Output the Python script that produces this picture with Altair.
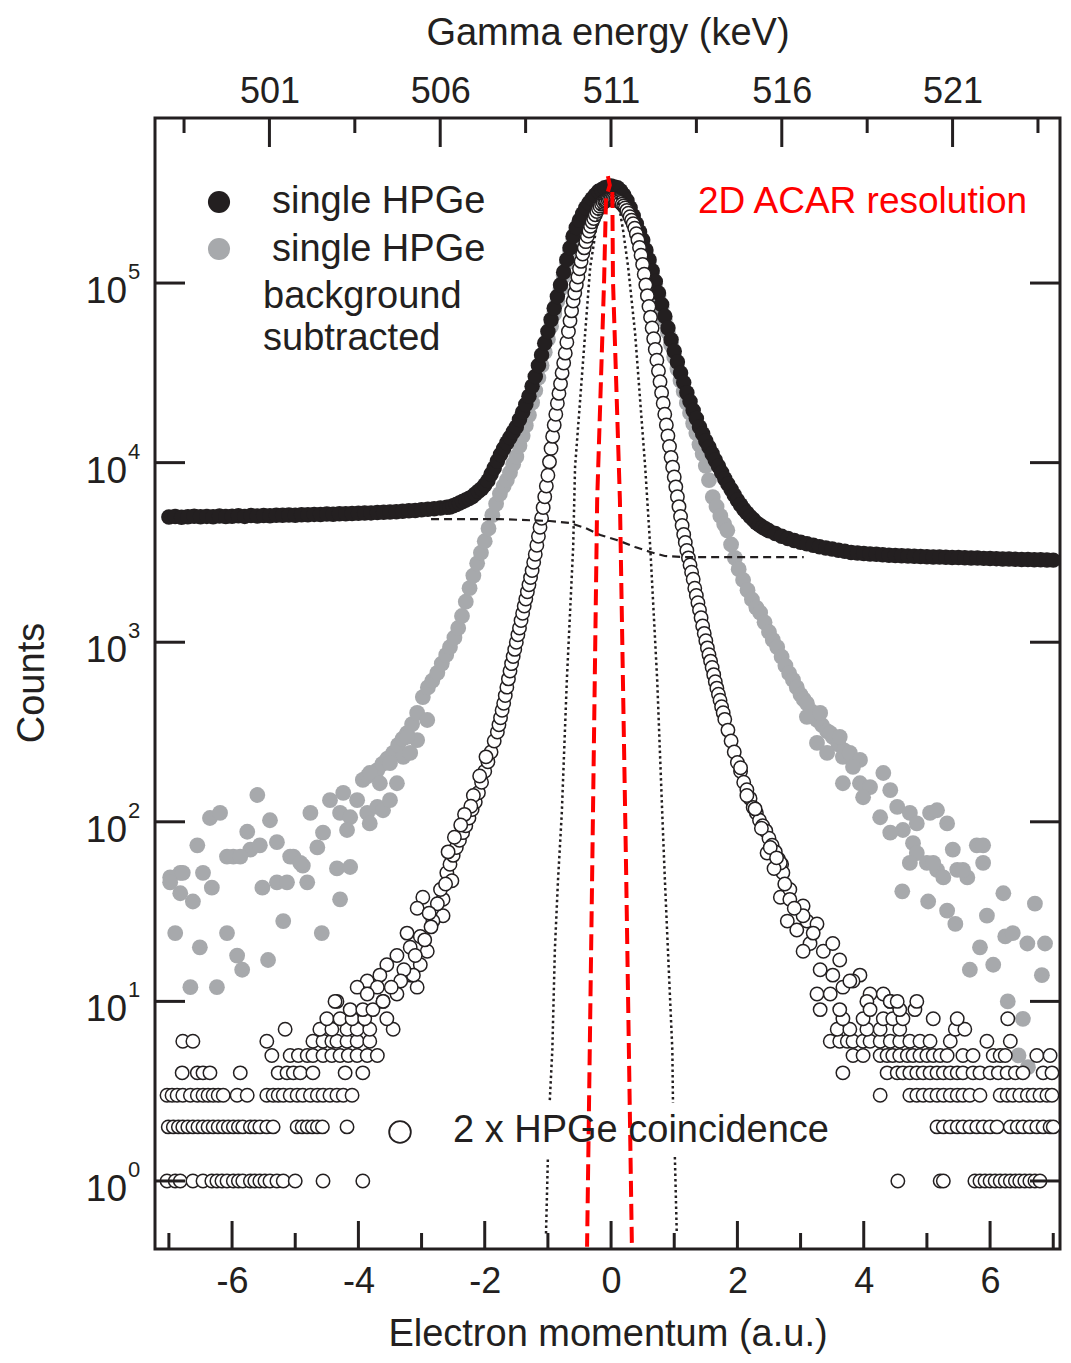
import altair as alt
import pandas as pd

FONT = "Liberation Sans"
INK = "#231f20"
GREY = "#a7a9ac"
RED = "#ff0000"

# ---------------- axis values ----------------
P_MAJOR = [-6, -4, -2, 0, 2, 4, 6]
P_MINOR = [-7, -5, -3, -1, 1, 3, 5, 7]
E_MAJOR = [501, 506, 511, 516, 521]
E_MINOR = [498.5, 503.5, 508.5, 513.5, 518.5, 523.5]
DECADES = [1, 10, 100, 1000, 10000, 100000]
DECADE_EXP = ["0", "1", "2", "3", "4", "5"]

P_DOMAIN = [-7.22, 7.107]         # electron momentum (a.u.)
E_DOMAIN = [497.65, 524.145]      # gamma energy (keV), same span
COUNT_DOMAIN = [0.418, 830000]

# ---------------- single HPGe (black) : (momentum, counts) ----------------
BLACK = [
    (-7.0, 4980), (-6.9, 5010), (-6.8, 4960), (-6.7, 5000), (-6.6, 5030), (-6.5, 4990),
    (-6.4, 5020), (-6.3, 5000), (-6.2, 5040), (-6.1, 5010), (-6.0, 5030), (-5.9, 5060),
    (-5.8, 5020), (-5.7, 5070), (-5.6, 5050), (-5.5, 5080), (-5.4, 5060), (-5.3, 5100),
    (-5.2, 5090), (-5.1, 5110), (-5.0, 5100), (-4.9, 5130), (-4.8, 5120), (-4.7, 5150),
    (-4.6, 5140), (-4.5, 5170), (-4.4, 5160), (-4.3, 5190), (-4.2, 5190), (-4.1, 5210),
    (-4.0, 5220), (-3.9, 5240), (-3.8, 5250), (-3.7, 5270), (-3.6, 5290), (-3.5, 5310),
    (-3.4, 5330), (-3.3, 5360), (-3.2, 5390), (-3.1, 5420), (-3.0, 5460), (-2.9, 5500),
    (-2.8, 5540), (-2.7, 5590), (-2.6, 5650), (-2.55, 5660), (-2.5, 5750), (-2.45, 5850),
    (-2.4, 5960), (-2.35, 6070), (-2.3, 6190), (-2.25, 6310), (-2.2, 6460), (-2.15, 6680),
    (-2.1, 6920), (-2.05, 7160), (-2.0, 7500), (-1.95, 7940), (-1.9, 8610), (-1.85, 9330),
    (-1.8, 10200), (-1.75, 11100), (-1.7, 12000), (-1.65, 12900), (-1.6, 13800), (-1.55, 14800),
    (-1.5, 15800), (-1.45, 17400), (-1.4, 19100), (-1.35, 21100), (-1.3, 23400), (-1.25, 26600),
    (-1.2, 30200), (-1.15, 34700), (-1.1, 39800), (-1.05, 46200), (-1.0, 53700), (-0.95, 62400),
    (-0.9, 72400), (-0.85, 84100), (-0.8, 97700), (-0.75, 115000), (-0.7, 135000), (-0.65, 157000),
    (-0.6, 182000), (-0.55, 204000), (-0.5, 224000), (-0.45, 243000), (-0.4, 263000), (-0.35, 279000),
    (-0.3, 295000), (-0.25, 309000), (-0.2, 324000), (-0.15, 331000), (-0.1, 339000), (-0.05, 343000),
    (0.0, 347000), (0.05, 343000), (0.1, 339000), (0.15, 327000), (0.2, 309000), (0.25, 288000),
    (0.3, 263000), (0.35, 237000), (0.4, 214000), (0.45, 193000), (0.5, 174000), (0.55, 153000),
    (0.6, 135000), (0.65, 117000), (0.7, 102000), (0.75, 88100), (0.8, 75900), (0.85, 65300),
    (0.9, 56200), (0.95, 48400), (1.0, 41700), (1.05, 36300), (1.1, 31600), (1.15, 27900),
    (1.2, 24500), (1.25, 21900), (1.3, 19500), (1.35, 17600), (1.4, 15800), (1.45, 14500),
    (1.5, 13200), (1.55, 12200), (1.6, 11200), (1.65, 10300), (1.7, 9550), (1.75, 8810),
    (1.8, 8130), (1.85, 7590), (1.9, 7080), (1.95, 6610), (2.0, 6170), (2.05, 5820),
    (2.1, 5500), (2.15, 5250), (2.2, 5010), (2.25, 4820), (2.3, 4620), (2.35, 4490),
    (2.4, 4370), (2.45, 4270), (2.5, 4170), (2.6, 4030), (2.7, 3890), (2.8, 3780),
    (2.9, 3680), (3.0, 3600), (3.1, 3530), (3.2, 3470), (3.3, 3400), (3.4, 3350),
    (3.5, 3300), (3.6, 3250), (3.7, 3210), (3.8, 3160), (3.9, 3140), (4.0, 3120),
    (4.1, 3100), (4.2, 3090), (4.3, 3070), (4.4, 3050), (4.5, 3040), (4.6, 3030),
    (4.7, 3020), (4.8, 3010), (4.9, 3000), (5.0, 2990), (5.1, 2985), (5.2, 2980),
    (5.3, 2970), (5.4, 2965), (5.5, 2960), (5.6, 2950), (5.7, 2945), (5.8, 2940),
    (5.9, 2930), (6.0, 2925), (6.1, 2920), (6.2, 2910), (6.3, 2905), (6.4, 2900),
    (6.5, 2890), (6.6, 2885), (6.7, 2880), (6.8, 2875), (6.9, 2870), (7.0, 2865),
]

# ---------------- single HPGe background subtracted (grey) ----------------
GREY_BAND = [
    (-3.93, 171), (-3.85, 180), (-3.78, 186), (-3.70, 194), (-3.62, 210), (-3.54, 225),
    (-3.45, 242), (-3.37, 268), (-3.30, 290), (-3.23, 312), (-3.15, 350), (-3.07, 404),
    (-2.98, 495), (-2.90, 560), (-2.83, 610), (-2.75, 675), (-2.68, 760), (-2.61, 850),
    (-2.55, 940), (-2.48, 1060), (-2.42, 1200), (-2.36, 1400), (-2.30, 1680), (-2.24, 2000),
    (-2.18, 2350), (-2.12, 2750), (-2.06, 3150), (-2.00, 3650), (-1.94, 4300), (-1.88, 5100),
    (-1.82, 5900), (-1.76, 6700), (-1.70, 7400), (-1.65, 8000), (-1.60, 8800), (-1.55, 9800),
    (-1.50, 10800), (-1.45, 12400), (-1.40, 14100), (-1.35, 16100), (-1.30, 18400), (-1.25, 21600),
    (-1.20, 25200), (-1.15, 29700), (-1.10, 34800), (-1.05, 41200), (-1.00, 48700), (-0.95, 57400),
    (-0.90, 67400), (-0.85, 79100), (-0.80, 92700), (-0.75, 110000), (-0.70, 130000), (-0.65, 152000),
    (-0.60, 177000), (-0.55, 199000), (-0.50, 219000), (-0.45, 238000), (-0.40, 258000), (-0.35, 274000),
    (-0.30, 290000), (-0.25, 304000), (-0.20, 319000), (-0.15, 326000), (-0.10, 335000), (-0.05, 339000),
    (0.00, 343000), (0.05, 339000), (0.10, 335000), (0.15, 323000), (0.20, 306000), (0.25, 285000),
    (0.30, 260000), (0.35, 234000), (0.40, 211000), (0.45, 190000), (0.50, 171000), (0.55, 150000),
    (0.60, 132000), (0.65, 114000), (0.70, 99000), (0.75, 85100), (0.80, 72900), (0.85, 62300),
    (0.90, 53200), (0.95, 45400), (1.00, 38700), (1.05, 33300), (1.10, 28600), (1.15, 24900),
    (1.20, 21500), (1.25, 18900), (1.30, 16500), (1.35, 14600), (1.40, 12600), (1.45, 11200),
    (1.50, 9600), (1.55, 8000), (1.61, 6430), (1.67, 5700), (1.73, 5050), (1.79, 4550),
    (1.84, 4200), (1.90, 3500), (1.96, 2950), (2.02, 2550), (2.09, 2220), (2.16, 1950),
    (2.23, 1730), (2.30, 1560), (2.36, 1460), (2.43, 1290), (2.50, 1140), (2.56, 1030),
    (2.63, 940), (2.70, 830), (2.76, 740), (2.82, 670), (2.88, 617), (2.94, 560),
    (3.00, 510), (3.05, 480), (3.10, 457), (3.18, 410), (3.26, 369), (3.34, 345),
    (3.42, 320), (3.51, 297), (3.60, 270), (3.69, 250), (3.78, 230),
]
GREY_SCATTER = [
    (-5.60, 141), (-6.35, 105), (-6.19, 112), (-6.55, 74), (-5.76, 88), (-5.40, 102),
    (-5.29, 77), (-5.98, 64), (-5.71, 70), (-5.56, 74), (-5.03, 64), (-4.88, 57),
    (-4.76, 112), (-4.65, 72), (-4.56, 87), (-4.45, 132), (-4.24, 145), (-4.29, 112),
    (-4.13, 106), (-4.02, 132), (-3.86, 112), (-3.82, 98), (-4.18, 90), (-3.70, 121),
    (-3.61, 116), (-3.50, 132), (-3.82, 187), (-3.66, 164), (-3.39, 164), (-3.29, 230),
    (-3.18, 242), (-3.50, 212), (-3.07, 285), (-2.91, 369), (-3.23, 297), (-4.34, 55),
    (-4.13, 56), (-6.82, 52), (-6.98, 49), (-6.08, 64), (-5.87, 64), (-5.08, 64),
    (-4.92, 59), (-6.98, 46), (-6.78, 52), (-6.82, 40), (-6.46, 52), (-6.32, 43),
    (-6.62, 36), (-5.52, 43), (-5.29, 46), (-5.13, 46), (-4.81, 46), (-4.29, 37),
    (-6.90, 24), (-6.51, 20), (-6.08, 24), (-5.92, 18), (-5.84, 15), (-5.43, 17),
    (-5.19, 28), (-4.58, 24), (-6.66, 12), (-6.24, 12),
    (3.10, 384), (3.31, 404), (3.26, 275), (3.47, 312), (3.62, 297), (3.42, 242),
    (3.67, 230), (3.78, 242), (3.94, 221), (3.83, 202), (3.67, 164), (3.94, 164),
    (4.10, 156), (4.31, 187), (4.42, 150), (3.99, 137), (4.26, 106), (4.53, 121),
    (4.73, 112), (4.62, 90), (4.84, 98), (5.05, 112), (5.16, 116), (5.32, 98),
    (4.42, 87), (4.78, 76), (4.84, 67), (4.73, 59), (5.00, 59), (5.16, 54),
    (5.41, 70), (5.79, 74), (5.89, 74), (5.89, 59), (5.48, 54), (5.64, 49),
    (5.10, 59), (5.26, 49), (5.57, 54), (4.61, 41), (5.02, 36), (5.32, 32),
    (5.45, 27), (5.95, 30), (6.21, 40), (6.71, 35), (6.24, 23), (6.36, 24),
    (6.59, 21), (6.87, 21), (5.84, 20), (5.68, 15), (6.05, 16), (6.82, 14),
    (6.28, 10), (6.52, 8), (6.45, 5), (6.60, 4.3),
]

# ---------------- 2 x HPGe coincidence (open circles) ----------------
OPEN_BAND = [
    (-2.60, 52), (-2.55, 58), (-2.50, 65), (-2.45, 72), (-2.40, 79), (-2.35, 87),
    (-2.30, 95), (-2.25, 105), (-2.20, 117), (-2.15, 129), (-2.10, 145), (-2.05, 166),
    (-2.00, 191), (-1.95, 216), (-1.90, 245), (-1.85, 282), (-1.80, 316), (-1.775, 347),
    (-1.75, 380), (-1.725, 418), (-1.70, 457), (-1.675, 505), (-1.65, 562), (-1.625, 625),
    (-1.60, 692), (-1.575, 760), (-1.55, 832), (-1.525, 912), (-1.50, 1000), (-1.475, 1100),
    (-1.45, 1200), (-1.425, 1320), (-1.40, 1450), (-1.375, 1590), (-1.35, 1740), (-1.325, 1910),
    (-1.300, 2090), (-1.275, 2290), (-1.250, 2510), (-1.225, 2790), (-1.200, 3090), (-1.175, 3470),
    (-1.150, 3890), (-1.125, 4370), (-1.100, 4900), (-1.075, 5620), (-1.050, 6460), (-1.025, 7410),
    (-1.000, 8510), (-0.975, 10100), (-0.950, 12000), (-0.925, 14000), (-0.900, 16200), (-0.875, 18600),
    (-0.850, 21400), (-0.825, 24300), (-0.800, 27500), (-0.775, 31600), (-0.750, 35900), (-0.725, 40700),
    (-0.700, 46800), (-0.675, 53700), (-0.650, 61700), (-0.625, 70000), (-0.600, 79400), (-0.575, 88100),
    (-0.550, 97700), (-0.525, 108000), (-0.500, 120000), (-0.475, 132000), (-0.450, 145000), (-0.425, 157000),
    (-0.400, 170000), (-0.375, 182000), (-0.350, 195000), (-0.325, 207000), (-0.300, 219000), (-0.275, 229000),
    (-0.250, 240000), (-0.225, 250000), (-0.200, 260000), (-0.175, 268000), (-0.150, 275000), (-0.125, 281000),
    (-0.100, 285000), (-0.075, 288000), (-0.050, 292000), (-0.025, 294000), (0.000, 295000),
    (0.025, 295000), (0.050, 294000), (0.075, 292000), (0.100, 288000), (0.125, 285000), (0.150, 281000),
    (0.175, 275000), (0.200, 269000), (0.225, 262000), (0.250, 254000), (0.275, 245000), (0.300, 234000),
    (0.325, 224000), (0.350, 214000), (0.375, 202000), (0.400, 188000), (0.425, 174000), (0.450, 158000),
    (0.475, 143000), (0.500, 127000), (0.525, 112000), (0.550, 97700), (0.575, 85100), (0.600, 74100),
    (0.625, 64600), (0.650, 56200), (0.675, 49000), (0.700, 42700), (0.725, 37200), (0.750, 32400),
    (0.775, 28200), (0.800, 24500), (0.825, 21400), (0.850, 18600), (0.875, 16200), (0.900, 14100),
    (0.925, 12300), (0.950, 10700), (0.975, 9440), (1.000, 8320), (1.025, 7330), (1.050, 6460),
    (1.075, 5690), (1.100, 5010), (1.125, 4470), (1.150, 3980), (1.175, 3590), (1.200, 3240),
    (1.225, 2950), (1.250, 2690), (1.275, 2450), (1.300, 2240), (1.325, 2000), (1.35, 1820),
    (1.375, 1660), (1.40, 1510), (1.425, 1370), (1.45, 1230), (1.475, 1120), (1.50, 1020),
    (1.525, 930), (1.55, 851), (1.575, 785), (1.60, 724), (1.625, 660), (1.65, 603),
    (1.675, 555), (1.70, 513), (1.725, 475), (1.75, 437), (1.775, 405), (1.80, 372),
    (1.85, 324), (1.90, 282), (1.95, 245), (2.00, 214), (2.05, 191), (2.10, 166),
    (2.15, 151), (2.20, 135), (2.25, 120), (2.30, 112), (2.35, 102), (2.40, 95),
    (2.45, 89), (2.50, 81), (2.55, 74), (2.60, 68), (2.65, 62), (2.70, 58),
]
OPEN_CLOUD = [
    (-2.52, 47), (-2.66, 37), (-2.98, 38), (-3.07, 33), (-2.66, 30), (-2.82, 28),
    (-3.23, 24), (-3.02, 23), (-3.18, 20), (-3.39, 18), (-3.02, 16), (-3.18, 14),
    (-3.07, 12), (-3.39, 11), (-3.55, 16), (-3.66, 14), (-3.86, 13), (-4.02, 12),
    (-3.70, 12), (-3.61, 10), (-3.86, 11), (-4.34, 10), (-2.91, 19), (-3.13, 14),
    (-2.70, 42), (-2.75, 35), (-2.85, 26), (-2.88, 31), (-2.95, 22), (-3.10, 18),
    (-3.28, 15), (-3.33, 13), (-3.48, 12), (-1.98, 230), (-2.08, 180), (-2.18, 140),
    (-2.22, 122), (-2.32, 110), (-2.38, 96), (-2.48, 82), (-2.58, 68), (-2.62, 45),
    (2.47, 67), (2.72, 52), (2.68, 38), (2.83, 42), (3.04, 34), (2.79, 28),
    (2.94, 25), (3.10, 28), (3.26, 27), (3.15, 21), (3.04, 19), (3.36, 19),
    (3.51, 21), (3.62, 17), (3.31, 15), (3.51, 14), (3.26, 11), (3.47, 11),
    (3.67, 12), (3.94, 14), (4.10, 11), (4.31, 11), (4.42, 10), (3.83, 13),
    (4.05, 10), (2.83, 37), (3.04, 30), (3.78, 13), (2.68, 59), (2.58, 55),
    (2.90, 33), (3.20, 24), (2.75, 45), (2.05, 200), (2.15, 140), (2.28, 118),
    (2.38, 92), (2.52, 72), (2.62, 63),
]
# integer-count rows in the tails: count -> momenta
OPEN_ROWS = {
    1: [-7.03, -6.90, -6.82, -6.62, -6.46, -6.32, -6.24, -6.16, -6.08, -5.98, -5.90, -5.83,
        -5.71, -5.64, -5.56, -5.48, -5.40, -5.29, -5.19, -5.00, -4.56, -3.93,
        4.54, 5.21, 5.26, 5.76, 5.84, 5.92, 6.00, 6.08, 6.16, 6.24, 6.32, 6.40,
        6.47, 6.55, 6.63, 6.71, 6.79],
    2: [-7.01, -6.93, -6.85, -6.78, -6.70, -6.62, -6.54, -6.46, -6.38, -6.30, -6.22, -6.14,
        -6.06, -5.98, -5.90, -5.83, -5.71, -5.64, -5.56, -5.45, -5.35, -4.97, -4.89, -4.81,
        -4.73, -4.65, -4.57, -4.18,
        5.16, 5.26, 5.37, 5.48, 5.57, 5.68, 5.79, 5.89, 6.00, 6.11, 6.32, 6.43,
        6.52, 6.63, 6.74, 6.84, 6.95, 7.00],
    3: [-7.03, -6.95, -6.87, -6.78, -6.66, -6.55, -6.46, -6.38, -6.30, -6.22, -6.14, -5.92,
        -5.76, -5.45, -5.35, -5.27, -5.19, -5.08, -4.97, -4.88, -4.76, -4.65, -4.56, -4.45,
        -4.34, -4.24, -4.10,
        4.26, 4.73, 4.84, 4.94, 5.05, 5.16, 5.26, 5.37, 5.48, 5.57, 5.68, 5.84,
        6.16, 6.27, 6.36, 6.47, 6.59, 6.68, 6.79, 6.90, 6.98],
    4: [-6.79, -6.55, -6.46, -6.35, -5.87, -5.27, -5.13, -5.03, -4.92, -4.72, -4.21, -3.93,
        3.67, 4.37, 4.53, 4.62, 4.73, 4.84, 4.94, 5.05, 5.16, 5.26, 5.37, 5.48,
        5.57, 5.73, 5.84, 6.00, 6.13, 6.27, 6.40, 6.52, 6.84, 6.98],
    5: [-5.37, -5.08, -4.95, -4.81, -4.72, -4.56, -4.42, -4.29, -4.16, -4.02, -3.86, -3.70,
        3.83, 3.99, 4.26, 4.37, 4.46, 4.57, 4.69, 4.78, 4.89, 5.00, 5.10, 5.21,
        5.32, 5.57, 5.73, 6.05, 6.16, 6.24, 6.74, 6.95],
    6: [-6.78, -6.62, -5.45, -4.72, -4.56, -4.42, -4.34, -4.18, -4.02, -3.82,
        3.47, 3.62, 3.74, 3.83, 3.99, 4.10, 4.26, 4.42, 4.57, 4.73, 4.89, 5.05, 5.37, 5.95, 6.32],
    7: [-5.16, -4.61, -4.42, -4.18, -4.02, -3.82, -3.45,
        3.58, 3.78, 4.05, 4.26, 4.57, 5.45, 5.60],
    8: [-4.50, -4.29, -4.10, -3.90, -3.55,
        3.67, 3.99, 4.31, 4.46, 4.62, 5.10, 5.48, 6.28],
    9: [-4.13, -3.93, -3.77, 3.31, 3.62, 4.10, 4.57, 4.81],
    10: [-4.37, -3.61, 4.42, 4.53, 4.84],
}

# ---------------- background (dashed) ----------------
BACKGROUND = [
    (-2.85, 4850), (-2.5, 4850), (-1.76, 4850), (-0.97, 4730), (-0.65, 4610), (-0.41, 4330),
    (-0.17, 3950), (0.09, 3710), (0.38, 3390), (0.62, 3180), (0.85, 3020), (1.14, 2980),
    (3.05, 2980),
]

# ---------------- resolution curve (dotted), split where the label sits ----------------
DOT_UPPER = [
    (-0.97, 2.82), (-0.93, 5.36), (-0.89, 19.3), (-0.84, 47.4), (-0.78, 112), (-0.70, 617),
    (-0.60, 3390), (-0.57, 9460), (-0.49, 22300), (-0.41, 52700), (-0.33, 123000), (-0.24, 197000),
    (-0.16, 290000), (-0.03, 355000), (0.11, 290000), (0.19, 197000), (0.27, 123000), (0.38, 52700),
    (0.46, 22300), (0.54, 9460), (0.62, 3390), (0.73, 617), (0.81, 112), (0.85, 49.3),
    (0.90, 19.3), (0.97, 5.36), (0.98, 2.72),
]
DOT_LOW_LEFT = [(-1.03, 0.51), (-1.00, 1.36)]
DOT_LOW_RIGHT = [(1.01, 1.36), (1.04, 0.51)]

# ---------------- 2D ACAR resolution (red dashed) ----------------
RED_LEFT = [(-0.05, 394000), (-0.02, 351000), (-0.08, 297000), (-0.11, 104000),
            (-0.22, 6190), (-0.30, 49), (-0.38, 0.43)]
RED_RIGHT = [(0.02, 321000), (0.03, 104000), (0.14, 6190), (0.24, 49), (0.33, 0.43)]

# ---------------- texts ----------------
LEGEND_SINGLE = "single HPGe"
LEGEND_BG_1 = "background"
LEGEND_BG_2 = "subtracted"
LEGEND_COINC = "2 x HPGe coincidence"
ACAR_TEXT = "2D ACAR resolution"
X_TITLE = "Electron momentum (a.u.)"
TOP_TITLE = "Gamma energy (keV)"
Y_TITLE = "Counts"

W, H = 905, 1131


def pts(rows):
    return pd.DataFrame(rows, columns=["p", "c"])


black_df = pts(BLACK)
grey_df = pts(GREY_BAND + GREY_SCATTER)
row_pts = [(x, n) for n, xs_ in OPEN_ROWS.items() for x in xs_]
open_df = pts(OPEN_BAND + OPEN_CLOUD + row_pts)
bg_df = pts(BACKGROUND)
dot_df = pd.concat([
    pts(DOT_UPPER).assign(seg="upper"),
    pts(DOT_LOW_LEFT).assign(seg="lowleft"),
    pts(DOT_LOW_RIGHT).assign(seg="lowright"),
])
red_df = pd.concat([
    pts(RED_LEFT).assign(side="L", i=list(range(len(RED_LEFT)))),
    pts(RED_RIGHT).assign(side="R", i=list(range(len(RED_RIGHT)))),
])

xs = alt.Scale(domain=P_DOMAIN, nice=False, zero=False)
ys = alt.Scale(type="log", domain=COUNT_DOMAIN, nice=False)
x_axis = alt.Axis(
    orient="bottom", values=P_MAJOR, labelExpr="'' + datum.value",
    ticks=False, tickSize=0, domain=False, grid=False,
    labelFont=FONT, labelFontSize=36, labelColor=INK, labelPadding=15,
    title=X_TITLE, titleFont=FONT, titleFontSize=38, titleFontWeight="normal",
    titleColor=INK, titlePadding=16,
)


def X():
    return alt.X("p:Q", scale=xs, axis=x_axis)


def Y():
    return alt.Y("c:Q", scale=ys, axis=None)


grey = alt.Chart(grey_df).mark_circle(size=250, color=GREY, opacity=1).encode(x=X(), y=Y())
black = alt.Chart(black_df).mark_circle(size=240, color=INK, opacity=1).encode(x=X(), y=Y())
opn = alt.Chart(open_df).mark_point(
    shape="circle", filled=True, fill="white", stroke=INK, strokeWidth=1.5, size=180, opacity=1
).encode(x=X(), y=Y())
bg = alt.Chart(bg_df).mark_line(color=INK, strokeWidth=2.2, strokeDash=[8, 5]).encode(x=X(), y=Y())
dots = alt.Chart(dot_df).mark_line(color=INK, strokeWidth=2.5, strokeDash=[2.5, 3]).encode(
    x=X(), y=Y(), detail="seg:N")
red = alt.Chart(red_df).mark_line(color=RED, strokeWidth=4, strokeDash=[16, 7]).encode(
    x=X(), y=Y(), detail="side:N", order="i:Q")

# inward ticks
bmaj = alt.Chart(pd.DataFrame({"p": P_MAJOR})).mark_rule(color=INK, strokeWidth=3).encode(
    x=X(), y=alt.value(H), y2=alt.value(H - 28))
bmin = alt.Chart(pd.DataFrame({"p": P_MINOR})).mark_rule(color=INK, strokeWidth=3).encode(
    x=X(), y=alt.value(H), y2=alt.value(H - 16))
dec_df = pd.DataFrame({"c": DECADES, "e": DECADE_EXP})
lt = alt.Chart(dec_df).mark_rule(color=INK, strokeWidth=3).encode(
    y=Y(), x=alt.value(0), x2=alt.value(30))
rt = alt.Chart(dec_df).mark_rule(color=INK, strokeWidth=3).encode(
    y=Y(), x=alt.value(W), x2=alt.value(W - 30))
lab10 = alt.Chart(dec_df).mark_text(
    align="right", baseline="alphabetic", dy=20, font=FONT, fontSize=37, color=INK
).encode(y=Y(), x=alt.value(-28), text=alt.value("10"))
labexp = alt.Chart(dec_df).mark_text(
    align="left", baseline="alphabetic", dy=-4, font=FONT, fontSize=22, color=INK
).encode(y=Y(), x=alt.value(-27), text="e:N")


def label(text, x, y, color=INK, size=38, angle=None, align="left"):
    kw = dict(align=align, baseline="alphabetic", font=FONT, fontSize=size, color=color)
    if angle is not None:
        kw["angle"] = angle
    return alt.Chart(pd.DataFrame({"t": [text]})).mark_text(**kw).encode(
        x=alt.value(x), y=alt.value(y), text="t:N")


def symbol(x, y, **kw):
    return alt.Chart(pd.DataFrame({"k": [0]})).mark_point(shape="circle", opacity=1, **kw).encode(
        x=alt.value(x), y=alt.value(y))


y_title = label(Y_TITLE, -111, 565, angle=270, align="center")
leg = [
    symbol(64, 84, filled=True, color=INK, size=490),
    symbol(64, 131, filled=True, color=GREY, size=490),
    label(LEGEND_SINGLE, 117, 95),
    label(LEGEND_SINGLE, 117, 143),
    label(LEGEND_BG_1, 108, 190),
    label(LEGEND_BG_2, 108, 232),
    symbol(245, 1014, filled=True, fill="white", stroke=INK, strokeWidth=1.8, size=470),
    label(LEGEND_COINC, 298, 1024),
    label(ACAR_TEXT, 543, 95, color=RED, size=37),
]

main = alt.layer(grey, black, opn, bg, dots, red, bmaj, bmin, lt, rt, lab10, labexp, y_title, *leg)

es = alt.Scale(domain=E_DOMAIN, nice=False, zero=False)
e_axis = alt.Axis(
    orient="top", values=E_MAJOR, ticks=False, tickSize=0, domain=False, grid=False,
    labelFont=FONT, labelFontSize=36, labelColor=INK, labelPadding=8,
    title=TOP_TITLE, titleFont=FONT, titleFontSize=38, titleFontWeight="normal",
    titleColor=INK, titlePadding=21,
)
tmaj = alt.Chart(pd.DataFrame({"E": E_MAJOR})).mark_rule(color=INK, strokeWidth=3).encode(
    x=alt.X("E:Q", scale=es, axis=e_axis), y=alt.value(0), y2=alt.value(29))
tmin = alt.Chart(pd.DataFrame({"E": E_MINOR})).mark_rule(color=INK, strokeWidth=3).encode(
    x=alt.X("E:Q", scale=es, axis=e_axis), y=alt.value(0), y2=alt.value(15))
top = alt.layer(tmaj, tmin)

chart = alt.layer(main, top).resolve_scale(x="independent").properties(
    width=W, height=H,
    padding={"left": 147, "top": 110, "right": 3, "bottom": 106},
    autosize=alt.AutoSizeParams(type="none"),
).configure_view(stroke=INK, strokeWidth=3)

chart.save("out.html", embed_options={"renderer": "svg", "actions": False})
